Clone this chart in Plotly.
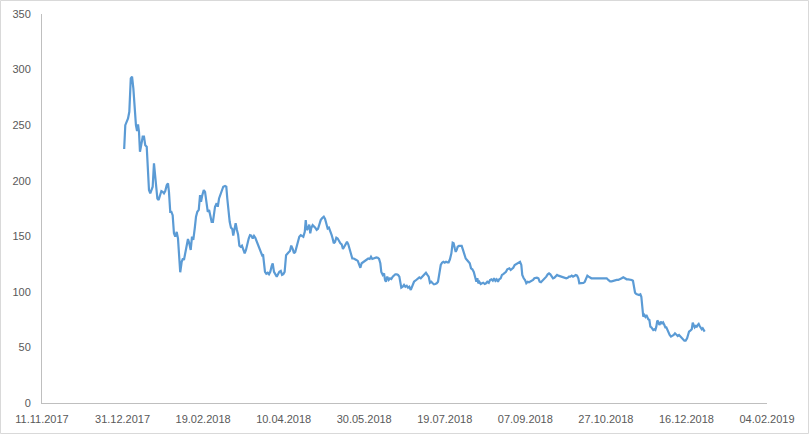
import pandas as pd
import plotly.graph_objects as go

days = [
    0.0, 0.7, 2.4, 3.2, 4.1, 4.9, 5.7, 6.5, 7.3, 8.0, 8.6, 9.2, 9.8, 10.6, 11.5, 12.3, 13.1, 14.0,
    14.8, 15.4, 16.2, 16.8, 17.7, 18.5, 19.1, 19.8, 20.6, 21.4, 22.2, 23.1, 23.9, 24.7, 25.5, 26.4,
    27.2, 27.8, 28.6, 29.3, 30.1, 30.9, 31.7, 32.6, 33.4, 34.2, 34.8, 35.7, 36.5, 37.1, 37.9, 38.8,
    39.6, 40.4, 41.3, 42.1, 42.9, 43.8, 44.6, 45.4, 46.3, 47.1, 47.7, 48.5, 49.4, 50.2, 51.0, 51.9,
    52.7, 53.5, 54.3, 55.1, 55.9,
    56.4, 57.4, 58.1, 58.9, 59.7, 60.5, 61.5, 62.6, 63.4, 64.0, 64.6, 65.5, 66.3, 67.1, 67.7, 68.6,
    69.2, 70.0, 70.7, 71.5, 72.3, 73.1, 73.9, 74.8, 75.6, 76.4, 77.3, 78.1, 78.9, 79.8, 80.6, 81.4,
    82.3, 83.1, 83.9, 84.7, 85.6, 86.2, 86.8, 87.4, 88.2, 89.1, 89.9, 90.7, 91.6, 92.2, 93.0, 93.8,
    94.7, 95.5, 96.3, 97.2, 98.0, 98.8, 99.6, 100.5, 101.3, 102.1, 102.9, 103.7, 104.6, 105.4, 106.2,
    107.1, 107.9, 108.7, 109.6, 110.4, 111.2, 112.1, 112.7, 113.3, 114.1, 114.9, 115.5, 116.2, 117.0,
    118.6, 119.5, 120.3, 121.1, 122.0, 122.8, 123.9, 124.7, 125.5, 126.3, 127.1, 128.0, 128.8, 129.4,
    130.1, 130.9, 131.7, 132.5, 133.3, 134.2, 135.0, 135.8, 136.6, 137.5, 138.3, 139.1, 140.0, 140.8,
    141.6, 142.5, 143.3, 144.1, 145.0, 145.8, 146.6, 147.4, 148.2, 149.1, 149.9, 150.7, 151.5, 152.4,
    153.2, 154.0, 154.9, 155.7, 156.5, 157.4, 158.2, 159.0, 159.6, 160.5, 161.3, 161.9, 162.5, 163.3,
    164.2, 165.0, 165.8, 166.7, 167.5, 168.3, 169.2, 170.0, 170.8, 171.4, 172.0, 172.9, 173.7, 174.5,
    175.4, 176.2, 177.0, 177.9,
    179.1, 179.9, 180.7, 181.6, 182.4, 183.2, 184.1, 184.9, 185.7, 186.5, 187.3, 188.2, 189.0, 189.8,
    190.6, 191.5, 192.3, 193.1, 194.0, 194.8, 195.6, 196.5, 197.3, 198.1, 199.0, 199.8, 200.6, 201.4,
    202.2, 203.1, 203.9, 204.5, 205.2, 205.8, 206.4, 207.0, 207.8, 208.6, 209.5, 210.3, 211.1, 212.0,
    212.8, 213.6, 214.5, 215.3, 216.1, 217.0, 217.8, 218.6, 219.2, 219.8, 220.4, 221.3, 222.1, 222.9,
    223.8, 224.6, 225.4, 226.3, 227.1, 227.9, 228.8, 229.6, 230.4, 231.2, 232.0, 232.8, 233.7, 234.5,
    235.3, 236.2, 237.0, 237.8,
    239.1, 239.9, 240.7, 241.5, 242.4, 243.2, 244.0, 244.9, 245.7, 246.5, 247.1, 248.0, 248.8, 249.6,
    250.5, 251.3, 252.1, 253.0, 253.8, 254.6, 255.4, 256.2, 257.1, 257.9, 258.7, 259.5, 260.4, 261.2,
    262.0, 262.9, 263.7, 264.5, 265.4, 266.2, 267.0, 267.9, 268.7, 269.5, 270.3, 271.1, 272.0, 272.8,
    273.6, 274.4, 275.3, 276.1, 276.9, 277.8, 278.6, 279.4, 280.3, 281.1, 281.9, 282.5, 283.4, 284.2,
    285.0, 285.9, 286.7, 287.5, 288.3, 289.1, 290.0, 291.0, 292.9, 294.7, 296.6,
    298.5, 299.5, 300.5, 301.6, 302.6, 303.6, 304.7, 305.7, 306.7, 307.8, 308.8, 309.8, 310.9, 311.9,
    312.9, 314.0, 315.0, 315.8, 316.5, 317.1, 317.9, 318.8, 319.6, 320.4, 321.0, 321.6, 322.2, 322.8,
    323.5, 324.1, 324.7, 325.3, 326.0, 326.6, 327.2, 327.8, 328.4, 329.1, 329.7, 330.3, 330.9, 331.5,
    332.2, 332.8, 333.4, 334.0, 334.6, 335.3, 335.9, 336.5, 337.1, 337.7, 338.6, 339.4, 340.2, 341.1,
    341.9, 342.7, 343.6, 344.4, 345.2, 346.1, 346.9, 347.7, 348.5, 349.4, 350.0, 350.6, 351.4, 352.3,
    352.9, 353.5, 354.1, 354.8, 355.4, 356.0, 356.6, 357.2, 357.9, 358.5, 359.1, 359.7, 360.3,
]

price = [
    228.5, 250, 256, 262, 292, 293.6, 283, 265, 250, 244.7, 250.7, 244, 226, 232, 239.6, 239.6, 232, 230.6,
    208, 191.6, 188.7, 191.6, 194.6, 215.7, 208, 196, 184, 182.7, 186.5, 190.7, 190, 188.7, 190.7, 196,
    197.7, 190, 172, 172, 169, 152.7, 149.6, 154, 148, 131.6, 117.6, 127, 130, 128.7, 136, 143.7,
    147.6, 143.7, 137.7, 149.6, 146.7, 157, 167.6, 172, 173.7, 187, 181, 187, 191.6, 190, 179.7, 172,
    173.7, 167.6, 163, 163, 172,
    176.6, 179.7, 176.6, 184, 187, 191.6, 194.6, 195.3, 194.6, 184, 172, 163, 157.8, 156.6, 150.6, 157,
    161.7, 155.7, 151.7, 141.6, 140.6, 141.6, 138.6, 134.7, 137.7, 143.7, 148, 151, 150.6, 148, 150.3, 148.7,
    145, 142, 138.6, 134.7, 133, 133.7, 125.7, 118, 116.3, 117.2, 115.8, 118, 123.5, 125.7, 118, 116,
    113.7, 115.8, 118, 118.8, 115.2, 115.8, 118, 133, 134.7, 135.6, 136.8, 141.6, 138.6, 134.7, 136,
    140.6, 143.7, 149.6, 151, 150.6, 149.6, 154, 164.6, 155.7, 157, 160.6, 152.7, 157.8, 160,
    157.8, 155.7, 156.6, 160.8, 164.6, 166.2, 167.6, 165.6, 160, 157, 157.8, 154.8, 151, 148,
    143.7, 145, 148.7, 148, 145.8, 143.7, 142.8, 138.6, 140.6, 143.7, 145, 142.8, 138.6, 136,
    130, 130, 129.6, 128.7, 127.8, 124.8, 121.7, 125.7, 126.6, 127.8, 128.7, 129.6, 130, 129.6,
    131.6, 129.6, 130, 131, 131, 130.7, 129.6, 125.7, 118, 115.2, 116.7, 110.7, 109.1, 113.7,
    110.7, 112.2, 111.6, 113.7, 115.2, 115.8, 115.8, 115.2, 113.7, 107.7, 103.7, 104.6, 106.2, 104.6,
    105.5, 103.7, 104.6, 101.7,
    106.2, 109.1, 110, 111.3, 112.2, 113.1, 112.2, 113.7, 114.3, 116.7, 117.2, 115.2, 113.7, 108.2,
    109.1, 107.7, 106.8, 107.1, 107.7, 109.1, 116.7, 124.2, 126.2, 127.1, 126.2, 127.1, 126.6, 126.6,
    129.3, 134.7, 144.2, 143.7, 139.2, 136, 137.7, 140.6, 141.3, 141.3, 141.3, 137.7, 133, 130,
    128.7, 127.1, 125.7, 121.2, 120.3, 118, 113.7, 109.1, 112.2, 107.7, 109.1, 107.1, 107.7, 108.2,
    107.1, 107.7, 109.1, 108.2, 110.7, 111.3, 110, 112.2, 110, 111.3, 109.1, 111.3, 112.2, 115.2,
    116, 116.7, 118, 120.3,
    121.2, 119.7, 120.6, 121.7, 124.2, 124.8, 125.7, 126.6, 127.1, 124.2, 115.2, 112.2, 110.7, 107.7,
    109.1, 108.6, 109.1, 109.8, 110.7, 112.2, 112.7, 112.7, 112.2, 109.1, 108.6, 109.8, 110.7, 112.2,
    113.7, 115.8, 116.7, 115.8, 113.7, 112.2, 112.7, 114.6, 115.2, 114.6, 114.3, 114, 113.7, 113.4,
    112.7, 112.2, 112.7, 113.7, 113.7, 114.6, 113.7, 114.6, 115.2, 114.6, 112.2, 107.7, 107.7, 107.7,
    108, 109.1, 112.7, 114.6, 113.7, 112.7, 112.2, 112.2, 112.2, 112.2, 112.2,
    112.2, 112.2, 110.7, 109.5, 109.5, 110, 110, 110.7, 110.7, 111.3, 112.2, 113.1, 112.2, 111.3,
    111.3, 111.3, 110.7, 110, 104.6, 99.2, 98, 97.2, 97.2, 97.8, 95.6, 86.6, 77.6, 79.2,
    77.6, 79.2, 76.2, 75.3, 74.7, 68.7, 68.1, 66.3, 65.7, 66.3, 65.7, 68.7, 74.1, 73.2,
    70.2, 71.7, 73.2, 71.1, 72.3, 70.2, 68.1, 68.1, 65.7, 64.2, 61.2, 59.7, 60.3, 61.2,
    62.7, 61.2, 60.3, 61.2, 59.7, 58.2, 56.7, 56.1, 56.1, 58.2, 61.2, 64.2, 65.1, 66.3,
    72.3, 69.3, 68.1, 69.3, 68.7, 70.2, 71.1, 69.3, 67.2, 66.3, 67.2, 65.7, 64.2,
]

series_start = "2018-01-01"
axis_start = "2017-11-11"
axis_end = "2019-02-04"
tick_step_days = 50
y_ticks = [0, 50, 100, 150, 200, 250, 300, 350]

dates = pd.Timestamp(series_start) + pd.to_timedelta(days, unit="D")

fig = go.Figure()
fig.add_trace(go.Scatter(
    x=dates, y=price, mode="lines",
    line=dict(color="#5B9BD5", width=2.2),
    hoverinfo="x+y",
))

W, H = 809, 434
ml, mr, mt, mb = 42, 42, 14, 31
pw, ph = W - ml - mr, H - mt - mb

fig.update_layout(
    width=W, height=H,
    margin=dict(l=ml, r=mr, t=mt, b=mb, pad=0, autoexpand=False),
    paper_bgcolor="white", plot_bgcolor="white",
    showlegend=False,
    font=dict(family="Liberation Sans, Arial, sans-serif", size=11, color="#595959"),
    xaxis=dict(
        type="date",
        range=[axis_start, axis_end],
        tick0=axis_start, dtick=tick_step_days * 86400000,
        tickformat="%d.%m.%Y",
        showgrid=False, zeroline=False,
        showline=True, linecolor="#bfbfbf", linewidth=1,
        ticks="", ticklabelstandoff=6,
        automargin=False,
        fixedrange=True,
    ),
    yaxis=dict(
        range=[0, 350], tickvals=y_ticks,
        showgrid=False, zeroline=False,
        showline=True, linecolor="#bfbfbf", linewidth=1,
        ticks="", ticklabelstandoff=8,
        automargin=False,
        fixedrange=True,
    ),
    shapes=[dict(
        type="rect", xref="paper", yref="paper",
        x0=(0.5 - ml) / pw, x1=(W - 0.5 - ml) / pw,
        y0=-(mb - 0.5) / ph, y1=1 + (mt - 0.5) / ph,
        line=dict(color="#d9d9d9", width=1), fillcolor="rgba(0,0,0,0)",
        layer="below",
    )],
)

fig.write_html(
    "out.html",
    config={"displayModeBar": False},
    post_script="document.body.style.margin='0px';document.body.style.overflow='hidden';",
)
